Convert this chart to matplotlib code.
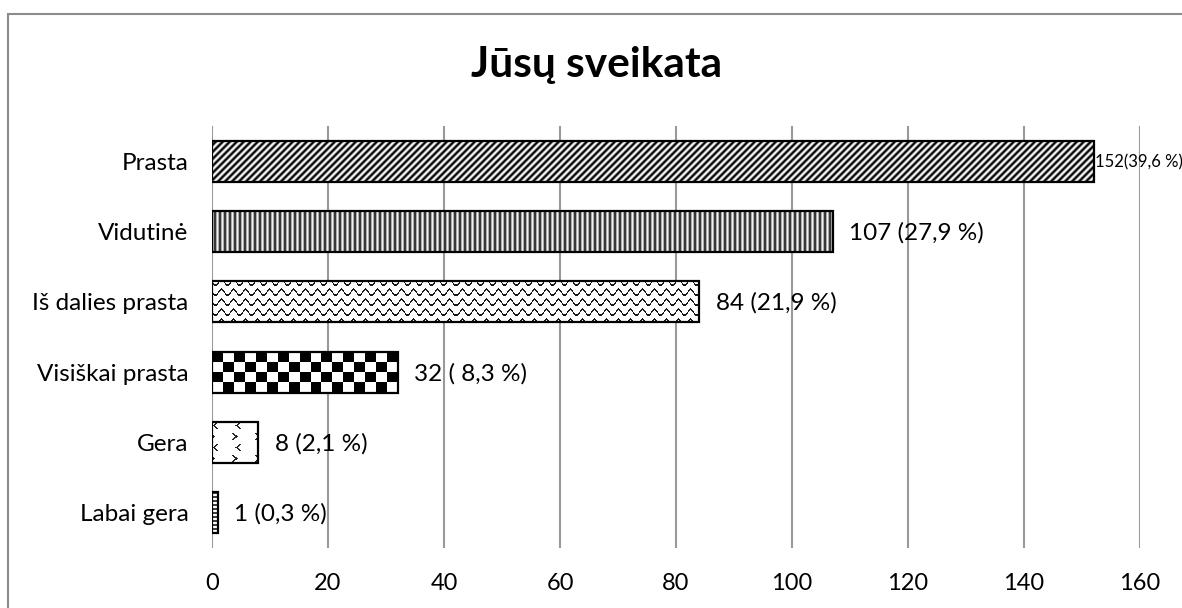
import numpy as np
import matplotlib.pyplot as plt
from matplotlib.patches import Rectangle

plt.rcParams['font.family'] = ['Lato', 'DejaVu Sans']

# data, bottom to top
categories = ["Labai gera", "Gera", "Visiškai prasta", "Iš dalies prasta", "Vidutinė", "Prasta"]
counts = [1, 8, 32, 84, 107, 152]
value_labels = ["1 (0,3 %)", "8 (2,1 %)", "32 ( 8,3 %)", "84 (21,9 %)", "107 (27,9 %)", "152(39,6 %)"]
x_ticks = [0, 20, 40, 60, 80, 100, 120, 140, 160]
title = "Jūsų sveikata"


# pixel textures for the bar fills (value 0 = black, 1 = white)
def tex_diag(i, j):
    return 0.5 + 0.5 * np.cos(2 * np.pi * (i + j) / 7.0)

def tex_vert(i, j):
    return 0.55 + 0.4 * np.cos(2 * np.pi * j / 5.0)

def tex_wave(i, j):
    d = (i - 3.0 * np.sin(2 * np.pi * j / 12.0)) % 10.0
    return np.where(d < 2.0, 0.1, 1.0)

def tex_check(i, j):
    return ((i // 10 + (j / 10.9).astype(int)) % 2).astype(float)

def tex_chevrons(i, j):
    # small "<" / ">" marks on a staggered grid
    band = (i // 11) % 2
    r = i % 11
    c = (j + np.where(band == 0, 0, 11)) % 22
    shape = np.abs(r - 3)
    left = (r < 7) & ((c == 1 + shape) | (c == 2 + shape))
    right = (r < 7) & ((c == 12 - shape) | (c == 13 - shape))
    dark = np.where(band == 0, left, right)
    return np.where(dark, 0.15, 1.0)

def tex_hlines(i, j):
    return np.where(i % 4 < 2, 0.25, 1.0)

textures = [tex_hlines, tex_chevrons, tex_check, tex_wave, tex_vert, tex_diag]

fig = plt.figure(figsize=(11.82, 6.08), dpi=100)
ax = fig.add_axes([212 / 1182, 1 - 548 / 608, 928 / 1182, 422 / 608])

y = np.arange(len(categories))
bars = ax.barh(y, counts, height=0.58, facecolor='white', edgecolor='black',
               linewidth=1.6, zorder=3)

ax.set_xlim(0, 160)
ax.set_ylim(-0.5, len(categories) - 0.5)
fig.canvas.draw()

# fill each bar with its pattern, clipped to the bar
for bar, tex in zip(bars, textures):
    x0, y0 = bar.get_x(), bar.get_y()
    x1, y1 = x0 + bar.get_width(), y0 + bar.get_height()
    (px0, py0), (px1, py1) = ax.transData.transform([(x0, y0), (x1, y1)])
    w = max(int(round(px1 - px0)), 1)
    h = max(int(round(py1 - py0)), 1)
    ii, jj = np.mgrid[0:h, 0:w]
    img = ax.imshow(tex(ii, jj), extent=(x0, x1, y0, y1), cmap='gray', vmin=0, vmax=1,
                    interpolation='nearest', aspect='auto', zorder=2)
    img.set_clip_path(bar)
    bar.set_facecolor('none')

ax.set_xlim(0, 160)
ax.set_ylim(-0.5, len(categories) - 0.5)

for k, (v, lab) in enumerate(zip(counts, value_labels)):
    if k == len(counts) - 1:
        ax.annotate(lab, (v, k), xytext=(1, -1), textcoords='offset points',
                    va='center', ha='left', fontsize=12, zorder=4)
    else:
        ax.annotate(lab, (v, k), xytext=(12, -1), textcoords='offset points',
                    va='center', ha='left', fontsize=17.5, zorder=4)

ax.set_yticks(y)
ax.set_yticklabels(categories, fontsize=17.5)
ax.set_xticks(x_ticks)
ax.tick_params(axis='x', length=0, pad=18, labelsize=17)
ax.tick_params(axis='y', length=0, pad=17)
ax.grid(axis='x', color='#999999', linewidth=1.5, zorder=0)
for s in ax.spines.values():
    s.set_visible(False)

fig.text(597 / 1182, 1 - 77 / 608, title, ha='center', va='baseline',
         fontsize=30.5, fontweight='bold')

# outer chart border
fig.patches.append(Rectangle((8 / 1182, -0.5), 2, 1.5 - 14 / 608, transform=fig.transFigure,
                             fill=False, edgecolor='#8c8c8c', linewidth=1.5))

fig.savefig('out.png', dpi=100)
